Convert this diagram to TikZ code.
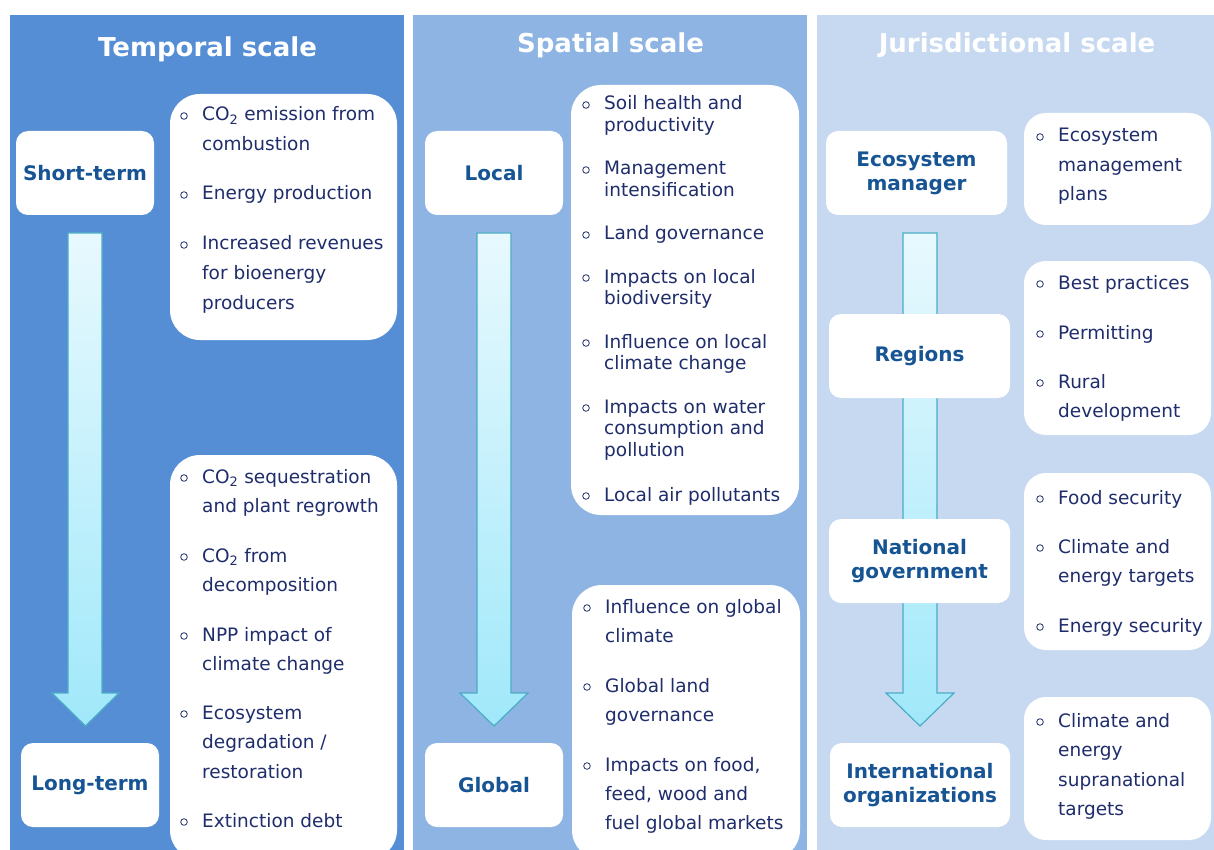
\documentclass[tikz,border=0pt]{standalone}
\usepackage{fontspec}
\setmainfont{DejaVu Sans}
\definecolor{bgA}{RGB}{85,142,213}
\definecolor{bgB}{RGB}{142,180,227}
\definecolor{bgC}{RGB}{198,217,241}
\definecolor{labblue}{RGB}{22,84,148}
\definecolor{navy}{RGB}{31,45,107}
\definecolor{arrtop}{RGB}{232,249,254}
\definecolor{arrbot}{RGB}{160,232,250}
\definecolor{arredge}{RGB}{75,172,198}
\tikzset{
  colbg/.style={fill=#1, draw=none},
  title/.style={anchor=base, text=white, font=\bfseries\fontsize{26}{30}\selectfont, inner sep=0pt},
  labbox/.style={fill=white, draw=none, rounded corners=12pt, minimum height=84pt,
    text=labblue, font=\bfseries\fontsize{20}{24}\selectfont, align=center, inner sep=0pt},
  bbox/.style={fill=white, draw=none, rounded corners=#1, inner sep=0pt},
  bbox/.default=30pt,
  itm/.style={anchor=base west, inner sep=0pt, text=navy},
  bul/.style={draw=navy, line width=0.8pt},
  bigarrow/.style={draw=arredge, line width=1.2pt, top color=arrtop, bottom color=arrbot, line join=miter}
}
\newcommand\bitem[5]{%
  \draw[bul] ({#2-18},{#3-5}) circle[radius=3.3];
  \node[itm, font=\fontsize{18.5}{#4}\selectfont] (#1) at (#2,#3)
    {\begin{tabular}[t]{@{}l@{}}#5\end{tabular}};%
}
\begin{document}
\begin{tikzpicture}[x=1pt,y=-1pt]
\clip (0,0) rectangle (1214,850);
\fill[white] (0,0) rectangle (1214,850);
% column backgrounds
\fill[colbg=bgA] (10,15) rectangle (404,850);
\fill[colbg=bgB] (413,15) rectangle (807,850);
\fill[colbg=bgC] (817,15) rectangle (1214,850);
% titles
\node[title] (t1) at (207.5,57) {Temporal scale};
\node[title] (t2) at (610.5,53) {Spatial scale};
\node[title] (t3) at (1017,53) {Jurisdictional scale};
% arrows
\draw[bigarrow] (68,233) -- (102,233) -- (102,693) -- (119,693) -- (85.5,726) -- (52,693) -- (68,693) -- cycle;
\draw[bigarrow] (477,233) -- (511,233) -- (511,693) -- (528,693) -- (494,726) -- (460,693) -- (477,693) -- cycle;
\draw[bigarrow] (903,233) -- (937,233) -- (937,693) -- (954,693) -- (920,726) -- (886,693) -- (903,693) -- cycle;
% label boxes
\node[labbox, minimum width=138pt] (st) at (85,173) {Short-term};
\node[labbox, minimum width=138pt] (lt) at (90,785) {Long-term};
\node[labbox, minimum width=138pt] (loc) at (494,173) {Local};
\node[labbox, minimum width=138pt] (glo) at (494,785) {Global};
\node[labbox, minimum width=181pt] (em) at (916.5,173) {Ecosystem\\manager};
\node[labbox, minimum width=181pt] (reg) at (919.5,356) {Regions};
\node[labbox, minimum width=181pt] (nat) at (919.5,561) {National\\government};
\node[labbox, minimum width=180pt] (int) at (920,785) {International\\organizations};
% bullet boxes
\node[bbox, minimum width=227pt, minimum height=246pt] (b1) at (283.5,217) {};
\node[bbox, minimum width=227pt, minimum height=405pt] (b2) at (283.5,657.5) {};
\node[bbox, minimum width=228pt, minimum height=430pt] (b3) at (685,300) {};
\node[bbox, minimum width=228pt, minimum height=275pt] (b4) at (686,722.5) {};
\node[bbox=22pt, minimum width=187pt, minimum height=112pt] (b5) at (1117.5,169) {};
\node[bbox=22pt, minimum width=187pt, minimum height=174pt] (b6) at (1117.5,348) {};
\node[bbox=22pt, minimum width=187pt, minimum height=177pt] (b7) at (1117.5,561.5) {};
\node[bbox=22pt, minimum width=187pt, minimum height=143pt] (b8) at (1117.5,768.5) {};
% column 1 items
\bitem{a1}{202}{121}{29.5}{CO\textsubscript{2} emission from\\combustion}
\bitem{a2}{202}{200}{29.5}{Energy production}
\bitem{a3}{202}{250}{29.5}{Increased revenues\\for bioenergy\\producers}
\bitem{a4}{202}{483}{29.5}{CO\textsubscript{2} sequestration\\and plant regrowth}
\bitem{a5}{202}{562}{29.5}{CO\textsubscript{2} from\\decomposition}
\bitem{a6}{202}{641}{29.5}{NPP impact of\\climate change}
\bitem{a7}{202}{719}{29.5}{Ecosystem\\degradation /\\restoration}
\bitem{a8}{202}{827}{29.5}{Extinction debt}
% column 2 items
\bitem{c1}{604}{110}{21.5}{Soil health and\\productivity}
\bitem{c2}{604}{175}{21.5}{Management\\intensification}
\bitem{c3}{604}{240}{21.5}{Land governance}
\bitem{c4}{604}{283}{21.5}{Impacts on local\\biodiversity}
\bitem{c5}{604}{348}{21.5}{Influence on local\\climate change}
\bitem{c6}{604}{413}{21.5}{Impacts on water\\consumption and\\pollution}
\bitem{c7}{604}{501}{21.5}{Local air pollutants}
\bitem{d1}{605}{613}{29}{Influence on global\\climate}
\bitem{d2}{605}{692}{29}{Global land\\governance}
\bitem{d3}{605}{771}{29}{Impacts on food,\\feed, wood and\\fuel global markets}
% column 3 items
\bitem{e1}{1058}{142}{29.5}{Ecosystem\\management\\plans}
\bitem{e2}{1058}{289}{29.5}{Best practices}
\bitem{e3}{1058}{339}{29.5}{Permitting}
\bitem{e4}{1058}{388}{29.5}{Rural\\development}
\bitem{e5}{1058}{504}{29.5}{Food security}
\bitem{e6}{1058}{553}{29.5}{Climate and\\energy targets}
\bitem{e7}{1058}{632}{29.5}{Energy security}
\bitem{e8}{1058}{727}{29.5}{Climate and\\energy\\supranational\\targets}
\end{tikzpicture}
\end{document}
